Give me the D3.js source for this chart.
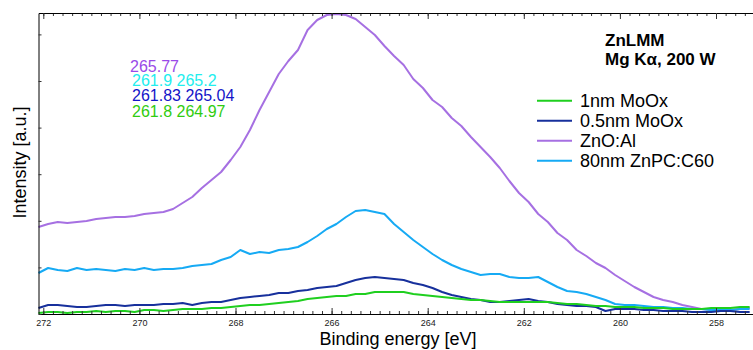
<!DOCTYPE html>
<html><head><meta charset="utf-8">
<script src="https://cdn.jsdelivr.net/npm/d3@7"></script>
<style>html,body{margin:0;padding:0;background:#fff;}svg{display:block;font-family:"Liberation Sans",Arial,sans-serif;}</style>
</head><body>
<svg id="chart" width="753" height="350"></svg>
<script>
// Binding energy grid (eV), 272.1 -> 257.3 in 0.2 eV steps
const energies = d3.range(0, 75).map(i => +(272.1 - i * 0.2).toFixed(1));

// Intensities (a.u.)
const znoAl = [87,90,92,91,92,93,95,96,97,97, 98,100,101,102,105,111,117,126,134,142,
  154,167,184,204,222,240,253,264,284,294, 299,300,299,295,287,279,268,258,249,235,
  226,214,207,196,188,177,167,157,146,133, 121,112,100,92,81,74,64,58,51,46,
  39,33,27,22,17,14,12,9,7,5, 4,4,4,5,6];
const znpc = [41,46,44,43,46,44,45,44,43,45, 44,46,44,45,45,46,48,49,50,54,
  57,64,60,62,61,64,65,67,72,78, 85,90,97,103,104,102,100,90,82,74,
  67,60,54,49,45,42,39,40,40,37, 36,36,37,32,27,23,22,20,17,14,
  10,9,9,8,7,7,6,6,5,5, 4,4,4,5,5];
const moox05 = [6,9,9,8,7,7,8,9,9,8, 9,9,9,10,10,11,9,11,12,12,
  14,16,17,18,19,21,21,23,24,26, 27,28,31,34,36,37,36,35,34,31,
  29,26,22,19,17,15,14,12,12,13, 14,15,13,12,10,9,8,8,7,3,
  5,5,5,4,4,3,3,3,2,2, 2,3,3,2,2];
const moox1 = [1,2,2,1,2,2,3,2,3,3, 2,4,4,3,4,5,5,5,6,6,
  7,8,9,9,10,11,12,13,15,16, 17,18,18,20,20,22,22,22,22,20,
  19,18,17,16,15,14,14,13,12,12, 12,12,12,12,11,10,10,9,8,8,
  7,7,7,6,6,6,5,5,5,5, 6,6,6,7,7];

const seriesNames = ["1nm MoOx", "0.5nm MoOx", "ZnO:Al", "80nm ZnPC:C60"];
const seriesColors = ["#1fcf1f", "#17309c", "#a670e2", "#16aaf4"];
const seriesValues = [moox1, moox05, znoAl, znpc];
const drawOrder = [2, 3, 1, 0];

const xTicks = [272, 270, 268, 266, 264, 262, 260, 258];
const annotations = ["265.77", "261.9 265.2", "261.83 265.04", "261.8 264.97"];
const annotationColors = ["#9a4ae8", "#22eeee", "#1414c8", "#30cc10"];
const titleLines = ["ZnLMM", "Mg K\u03b1, 200 W"];

const svg = d3.select("#chart");
const x = d3.scaleLinear().domain([272.1, 257.23]).range([38.5, 753]);
const y = d3.scaleLinear().domain([0, 301]).range([314, 13]);

// series
const line = d3.line().x((d, i) => x(energies[i])).y(d => y(d));
drawOrder.forEach(k => {
  svg.append("path").datum(seriesValues[k])
    .attr("d", line).attr("fill", "none")
    .attr("stroke", seriesColors[k]).attr("stroke-width", 2)
    .attr("stroke-linejoin", "round");
});

// axes
const minor = d3.range(272, 257.1, -0.2).map(v => +v.toFixed(1));
const gBottom = svg.append("g").attr("transform", "translate(0,314)");
gBottom.call(d3.axisBottom(x).tickValues(minor).tickSizeInner(-3).tickSizeOuter(0).tickFormat(""));
gBottom.append("g").call(d3.axisBottom(x).tickValues(xTicks).tickSizeInner(-6).tickSizeOuter(0)
  .tickFormat(d3.format("d")).tickPadding(6));
const gTop = svg.append("g").attr("transform", "translate(0,13)");
gTop.call(d3.axisTop(x).tickValues(minor).tickSizeInner(-3).tickSizeOuter(0).tickFormat(""));
gTop.append("g").call(d3.axisTop(x).tickValues(xTicks).tickSizeInner(-6).tickSizeOuter(0).tickFormat(""));
const gLeft = svg.append("g").attr("transform", "translate(38.5,0)");
gLeft.call(d3.axisLeft(y).tickValues(d3.range(0, 301, 46.6)).tickSizeInner(-3).tickSizeOuter(0).tickFormat(""));
svg.selectAll(".domain").attr("stroke", "#000");
svg.selectAll(".tick line").attr("stroke", "#333");
svg.selectAll(".tick text").attr("font-size", 9).attr("fill", "#222")
  .attr("font-family", "Liberation Sans, Arial, sans-serif");

// axis titles
svg.append("text").attr("x", 398).attr("y", 345).attr("text-anchor", "middle")
  .attr("font-size", 18).attr("fill", "#000").text("Binding energy [eV]");
svg.append("text").attr("transform", "translate(25.5,162.5) rotate(-90)").attr("text-anchor", "middle")
  .attr("font-size", 18).attr("fill", "#000").text("Intensity [a.u.]");

// annotations
const annY = [72, 86, 101, 117], annX = [130, 132, 132, 132];
annotations.forEach((t, i) => {
  svg.append("text").attr("x", annX[i]).attr("y", annY[i]).attr("font-size", 16)
    .attr("fill", annotationColors[i]).text(t);
});

// title
titleLines.forEach((t, i) => {
  svg.append("text").attr("x", 605).attr("y", 46 + i * 19).attr("font-size", 17)
    .attr("font-weight", "bold").attr("fill", "#000").text(t);
});

// legend
seriesNames.forEach((n, i) => {
  const ly = 100.7 + i * 20;
  svg.append("line").attr("x1", 537).attr("x2", 572).attr("y1", ly).attr("y2", ly)
    .attr("stroke", seriesColors[i]).attr("stroke-width", 2);
  svg.append("text").attr("x", 580).attr("y", ly + 6.3).attr("font-size", 18)
    .attr("fill", "#000").text(n);
});
</script>
</body></html>
